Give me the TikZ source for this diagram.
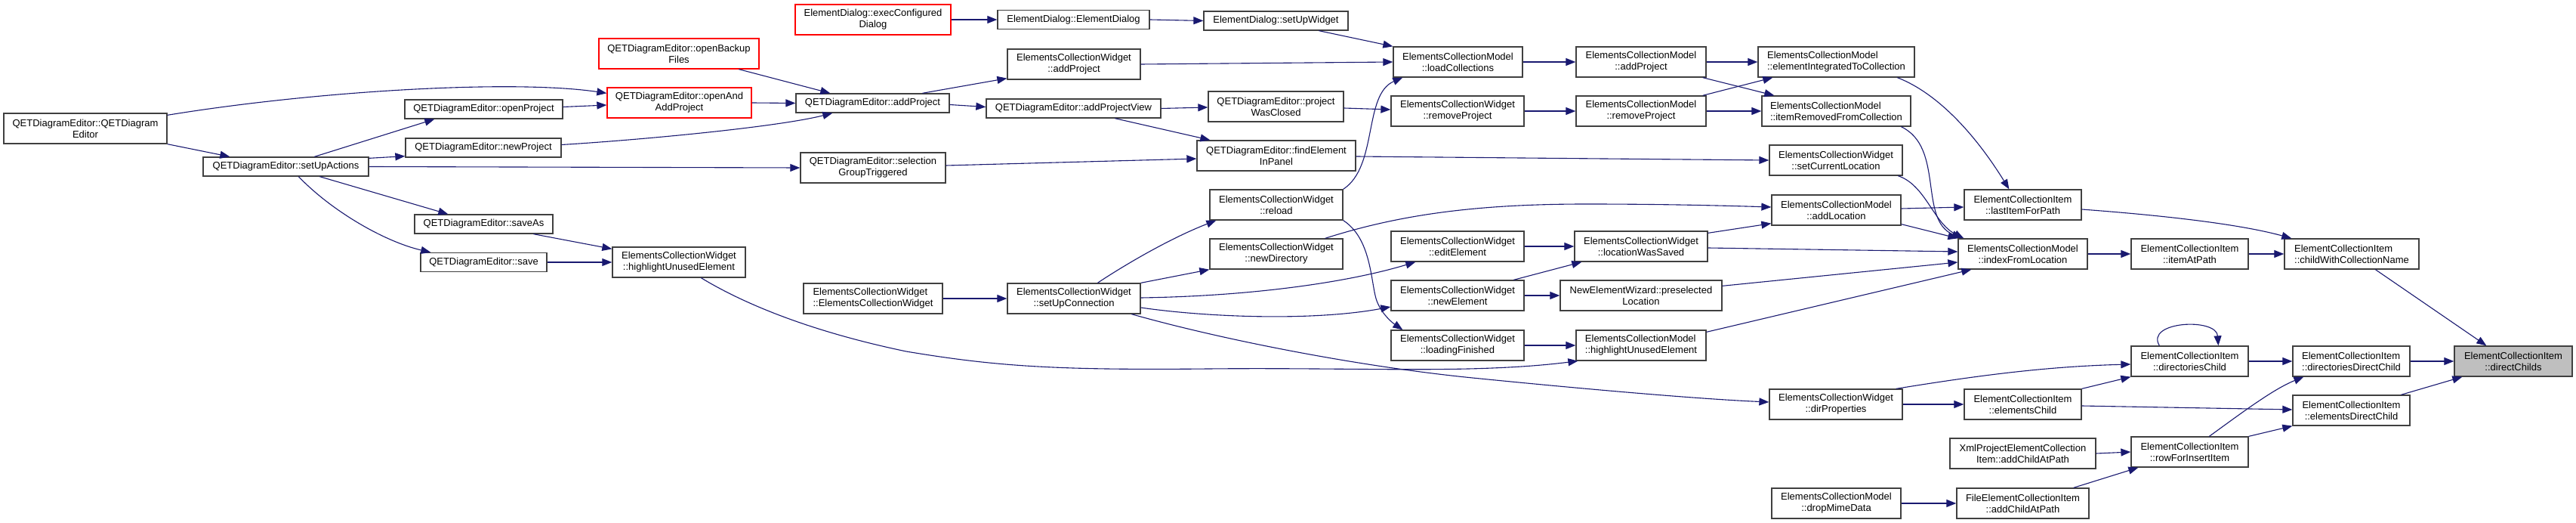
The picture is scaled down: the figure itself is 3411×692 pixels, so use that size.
\documentclass[tikz,border=0pt]{standalone}
\usepackage{fontspec}
\setmainfont{Liberation Sans}
\usetikzlibrary{arrows.meta,calc}
\definecolor{edgeblue}{HTML}{191970}
\definecolor{boxgray}{HTML}{404040}
\definecolor{redb}{HTML}{FF0000}
\definecolor{grayfill}{HTML}{BFBFBF}
\newcommand\nodefont{\fontsize{13}{15}\selectfont}
\tikzset{
  box/.style={draw=boxgray, fill=white, line width=1.3pt, inner sep=0pt, font=\nodefont, align=center},
  redbox/.style={box, draw=redb},
  graybox/.style={box, fill=grayfill},
  conn/.style={draw=edgeblue, line width=1.1pt, -{Triangle[length=13pt,width=10pt]}},
  sz/.style 2 args={minimum width=#1pt, minimum height=#2pt}
}
\begin{document}
\begin{tikzpicture}[x=1pt,y=-1pt]
\useasboundingbox (0,0) rectangle (3411,692);
% nodes
\node[box,sz={216}{40}] (n1) at (113,170) {QETDiagramEditor::QETDiagram\\Editor};
\node[box,sz={219}{25}] (n2) at (378.5,220.5) {QETDiagramEditor::setUpActions};
\node[box,sz={209}{25}] (n3) at (640.5,144.5) {QETDiagramEditor::openProject};
\node[box,sz={206}{25}] (n4) at (640,195.5) {QETDiagramEditor::newProject};
\node[box,sz={183}{25}] (n5) at (640.5,296.5) {QETDiagramEditor::saveAs};
\node[box,sz={167}{25}] (n6) at (640.5,347) {QETDiagramEditor::save};
\node[redbox,sz={212}{40}] (n7) at (899,71) {QETDiagramEditor::openBackup\\Files};
\node[redbox,sz={191}{40}] (n8) at (899.5,136) {QETDiagramEditor::openAnd\\AddProject};
\node[box,sz={176}{40}] (n9) at (899,347) {ElementsCollectionWidget\\::highlightUnusedElement};
\node[redbox,sz={206}{40}] (n10) at (1156,26) {ElementDialog::execConfigured\\Dialog};
\node[box,sz={203}{25}] (n11) at (1155.5,136.5) {QETDiagramEditor::addProject};
\node[box,sz={192}{40}] (n12) at (1156,222) {QETDiagramEditor::selection\\GroupTriggered};
\node[box,sz={184}{40},align=left] (n13) at (1156,395) {ElementsCollectionWidget\\::ElementsCollectionWidget};
\node[box,sz={201}{25}] (n14) at (1421.5,26) {ElementDialog::ElementDialog};
\node[box,sz={176}{40}] (n15) at (1422,85) {ElementsCollectionWidget\\::addProject};
\node[box,sz={231}{25}] (n16) at (1421.5,143.5) {QETDiagramEditor::addProjectView};
\node[box,sz={176}{40}] (n17) at (1422,395) {ElementsCollectionWidget\\::setUpConnection};
\node[box,sz={191}{25}] (n18) at (1689.5,27.5) {ElementDialog::setUpWidget};
\node[box,sz={179}{40}] (n19) at (1689.5,141) {QETDiagramEditor::project\\WasClosed};
\node[box,sz={210}{40}] (n20) at (1690,206) {QETDiagramEditor::findElement\\InPanel};
\node[box,sz={176}{40}] (n21) at (1690,271) {ElementsCollectionWidget\\::reload};
\node[box,sz={176}{40}] (n22) at (1690,336) {ElementsCollectionWidget\\::newDirectory};
\node[box,sz={171}{40}] (n23) at (1930.5,82) {ElementsCollectionModel\\::loadCollections};
\node[box,sz={176}{40}] (n24) at (1930,147) {ElementsCollectionWidget\\::removeProject};
\node[box,sz={176}{40}] (n25) at (1930,326) {ElementsCollectionWidget\\::editElement};
\node[box,sz={176}{40}] (n26) at (1930,391) {ElementsCollectionWidget\\::newElement};
\node[box,sz={176}{40}] (n27) at (1930,457) {ElementsCollectionWidget\\::loadingFinished};
\node[box,sz={172}{40}] (n28) at (2173,82) {ElementsCollectionModel\\::addProject};
\node[box,sz={172}{40}] (n29) at (2173,147) {ElementsCollectionModel\\::removeProject};
\node[box,sz={176}{40}] (n30) at (2173,326) {ElementsCollectionWidget\\::locationWasSaved};
\node[box,sz={214}{40}] (n31) at (2173,391) {NewElementWizard::preselected\\Location};
\node[box,sz={172}{40},align=left] (n32) at (2173,457) {ElementsCollectionModel\\::highlightUnusedElement};
\node[box,sz={207}{40},align=left] (n33) at (2431.5,82) {ElementsCollectionModel\\::elementIntegratedToCollection};
\node[box,sz={197}{40},align=left] (n34) at (2431.5,147) {ElementsCollectionModel\\::itemRemovedFromCollection};
\node[box,sz={176}{40}] (n35) at (2431,212) {ElementsCollectionWidget\\::setCurrentLocation};
\node[box,sz={171}{40}] (n36) at (2431.5,278) {ElementsCollectionModel\\::addLocation};
\node[box,sz={176}{40}] (n37) at (2431,535) {ElementsCollectionWidget\\::dirProperties};
\node[box,sz={171}{40}] (n38) at (2431.5,666) {ElementsCollectionModel\\::dropMimeData};
\node[box,sz={155}{40}] (n39) at (2678.5,271) {ElementCollectionItem\\::lastItemForPath};
\node[box,sz={171}{40}] (n40) at (2678.5,336) {ElementsCollectionModel\\::indexFromLocation};
\node[box,sz={155}{40}] (n41) at (2678.5,535) {ElementCollectionItem\\::elementsChild};
\node[box,sz={193}{40}] (n42) at (2678.5,600) {XmlProjectElementCollection\\Item::addChildAtPath};
\node[box,sz={175}{40}] (n43) at (2678.5,666) {FileElementCollectionItem\\::addChildAtPath};
\node[box,sz={155}{40}] (n44) at (2899.5,336) {ElementCollectionItem\\::itemAtPath};
\node[box,sz={155}{40}] (n45) at (2899.5,478) {ElementCollectionItem\\::directoriesChild};
\node[box,sz={155}{40}] (n46) at (2899.5,598) {ElementCollectionItem\\::rowForInsertItem};
\node[box,sz={178}{40},align=left] (n47) at (3114,336) {ElementCollectionItem\\::childWithCollectionName};
\node[box,sz={155}{40},align=left] (n48) at (3113.5,478) {ElementCollectionItem\\::directoriesDirectChild};
\node[box,sz={155}{40}] (n49) at (3113.5,543) {ElementCollectionItem\\::elementsDirectChild};
\node[graybox,sz={156}{40}] (n50) at (3328,478) {ElementCollectionItem\\::directChilds};
% edges
\draw[conn] (n1.south east) -- ($(n2.north west)+(36,0)$);
\draw[conn] ($(n1.north east)+(0,3)$) .. controls (420,120) and (680,105) .. ($(n8.north west)+(0,8)$);
\draw[conn] ($(n2.north west)+(148,0)$) -- ($(n3.south west)+(40,0)$);
\draw[conn] ($(n2.north east)+(0,2)$) -- ($(n4.south west)+(0,-2)$);
\draw[conn] (n2.east) -- (n12.west);
\draw[conn] ($(n2.south west)+(155,0)$) -- ($(n5.north west)+(45,0)$);
\draw[conn] ($(n2.south west)+(127,0)$) .. controls (440,280) and (510,320) .. ($(n6.north west)+(14,0)$);
\draw[conn] ($(n3.east)+(0,-3)$) -- ($(n8.west)+(0,3)$);
\draw[conn] ($(n4.east)+(0,-4)$) .. controls (850,185) and (1030,168) .. ($(n11.south west)+(49,0)$);
\draw[conn] ($(n7.south west)+(186,0)$) -- ($(n11.north west)+(46,0)$);
\draw[conn] (n8.east) -- (n11.west);
\draw[conn] ($(n5.south west)+(158,0)$) -- ($(n9.north west)+(0,3)$);
\draw[conn] (n6.east) -- (n9.west);
\draw[conn] ($(n9.south west)+(118,0)$) .. controls (990,405) and (1080,440) .. (1200,465) .. controls (1320,485) and (1400,490) .. (1600,488) .. controls (1800,486) and (1950,495) .. ($(n32.south west)+(3,0)$);
\draw[conn] (n10.east) -- (n14.west);
\draw[conn] (n14.east) -- (n18.west);
\draw[conn] ($(n18.south west)+(153,0)$) -- (n23.north west);
\draw[conn] (n15.east) -- (n23.west);
\draw[conn] ($(n11.north west)+(168,0)$) -- ($(n15.south west)+(0,-2)$);
\draw[conn] ($(n11.east)+(0,2)$) -- ($(n16.west)+(0,-2)$);
\draw[conn] (n16.east) -- ($(n19.west)+(0,1)$);
\draw[conn] ($(n16.south west)+(171,0)$) -- ($(n20.north west)+(18,0)$);
\draw[conn] ($(n12.east)+(0,-3)$) -- ($(n20.west)+(0,4)$);
\draw[conn] ($(n19.east)+(0,2)$) -- ($(n24.west)+(0,-2)$);
\draw[conn] (n21.north east) .. controls (1825,220) and (1805,125) .. ($(n23.south west)+(13,0)$);
\draw[conn] (n21.south east) .. controls (1815,315) and (1815,370) .. (1822,395) .. controls (1828,415) and (1845,428) .. ($(n27.north west)+(16,0)$);
\draw[conn] ($(n17.north west)+(120,0)$) .. controls (1490,350) and (1550,315) .. ($(n21.south west)+(9,0)$);
\draw[conn] (n17.north east) -- (n22.south west);
\draw[conn] ($(n17.east)+(0,-1)$) .. controls (1650,392) and (1780,375) .. ($(n25.south west)+(33,0)$);
\draw[conn] ($(n17.east)+(0,12)$) .. controls (1600,420) and (1740,425) .. ($(n26.west)+(0,15)$);
\draw[conn] ($(n17.south west)+(165,0)$) .. controls (1620,450) and (1800,485) .. (1950,500) .. controls (2100,515) and (2250,528) .. ($(n37.west)+(0,-3)$);
\draw[conn] (n13.east) -- (n17.west);
\draw[conn] ($(n22.north east)+(-24,0)$) .. controls (1850,285) and (1950,270) .. (2100,270) .. controls (2200,270) and (2280,272) .. ($(n36.west)+(0,-4)$);
\draw[conn] (n23.east) -- (n28.west);
\draw[conn] (n24.east) -- (n29.west);
\draw[conn] (n28.east) -- (n33.west);
\draw[conn] ($(n28.south east)+(-5,0)$) -- ($(n34.north west)+(17,0)$);
\draw[conn] ($(n29.north east)+(-5,0)$) -- ($(n33.south west)+(20,0)$);
\draw[conn] (n29.east) -- (n34.west);
\draw[conn] ($(n20.east)+(0,1)$) -- (n35.west);
\draw[conn] (n25.east) -- (n30.west);
\draw[conn] ($(n30.north east)+(0,3)$) -- ($(n36.south west)+(0,-3)$);
\draw[conn] ($(n30.east)+(0,2)$) -- ($(n40.west)+(0,-3)$);
\draw[conn] ($(n26.north west)+(163,0)$) -- ($(n30.south west)+(10,0)$);
\draw[conn] (n26.east) -- (n31.west);
\draw[conn] ($(n31.north east)+(0,8)$) -- ($(n40.west)+(0,11)$);
\draw[conn] (n27.east) -- (n32.west);
\draw[conn] ($(n32.north east)+(0,3)$) -- ($(n40.south west)+(18,0)$);
\draw[conn] ($(n33.south west)+(185,0)$) .. controls (2570,125) and (2620,185) .. ($(n39.north west)+(60,0)$);
\draw[conn] ($(n34.south west)+(185,0)$) .. controls (2575,195) and (2540,290) .. ($(n40.north west)+(5,0)$);
\draw[conn] ($(n35.south west)+(171,0)$) .. controls (2550,245) and (2560,295) .. ($(n40.north west)+(8,0)$);
\draw[conn] ($(n36.east)+(0,-2)$) -- ($(n39.west)+(0,3)$);
\draw[conn] ($(n36.south east)+(0,-2)$) -- (n40.north west);
\draw[conn] ($(n39.east)+(0,6)$) .. controls (2850,284) and (2960,295) .. ($(n47.north west)+(10,0)$);
\draw[conn] (n40.east) -- (n44.west);
\draw[conn] (n44.east) -- (n47.west);
\draw[conn] ($(n47.south west)+(121,0)$) -- ($(n50.north west)+(43,0)$);
\draw[conn] ($(n45.north west)+(38,0)$) .. controls (2840,425) and (2935,420) .. ($(n45.north west)+(116,0)$);
\draw[conn] (n45.east) -- (n48.west);
\draw[conn] (n48.east) -- (n50.west);
\draw[conn] ($(n49.north west)+(144,0)$) -- ($(n50.south west)+(11,0)$);
\draw[conn] ($(n46.north west)+(104,0)$) .. controls (2970,545) and (3010,515) .. ($(n48.south west)+(15,0)$);
\draw[conn] (n46.north east) -- (n49.south west);
\draw[conn] ($(n41.east)+(0,2)$) -- ($(n49.west)+(0,-1)$);
\draw[conn] ($(n37.north east)+(-9,0)$) .. controls (2600,500) and (2700,485) .. ($(n45.west)+(0,4)$);
\draw[conn] (n37.east) -- (n41.west);
\draw[conn] (n41.north east) -- (n45.south west);
\draw[conn] (n42.east) -- (n46.west);
\draw[conn] (n38.east) -- (n43.west);
\draw[conn] ($(n43.north east)+(-21,0)$) -- ($(n46.south west)+(10,0)$);
\end{tikzpicture}
\end{document}
